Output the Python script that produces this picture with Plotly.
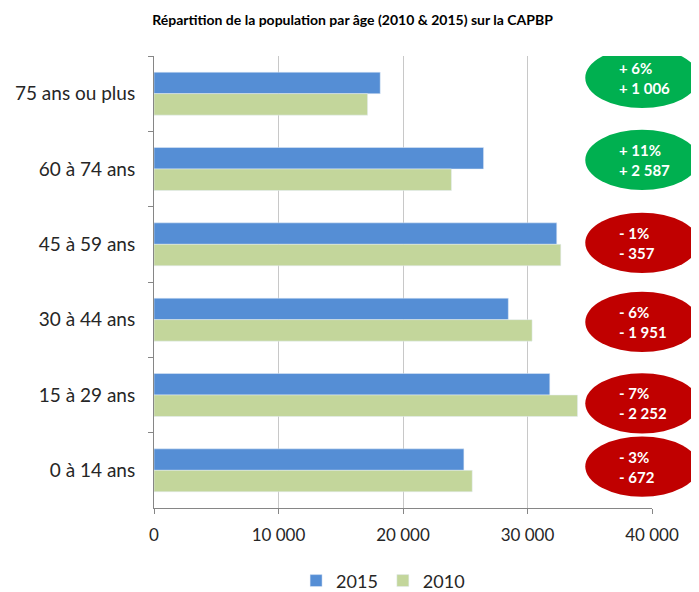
import plotly.graph_objects as go

categories = ["75 ans ou plus", "60 à 74 ans", "45 à 59 ans", "30 à 44 ans", "15 à 29 ans", "0 à 14 ans"]
pop_2015 = [18170, 26470, 32350, 28460, 31790, 24890]
pop_2010 = [17155, 23890, 32675, 30370, 34020, 25560]
evol_pct = ["+ 6%", "+ 11%", "- 1%", "- 6%", "- 7%", "- 3%"]
evol_abs = ["+ 1 006", "+ 2 587", "- 357", "- 1 951", "- 2 252", "- 672"]
x_ticks = [0, 10000, 20000, 30000, 40000]
x_tick_labels = ["0", "10 000", "20 000", "30 000", "40 000"]

FONT = "Lato, Carlito, Calibri, sans-serif"
GREEN_OK = "#00B050"
RED_KO = "#C00000"

fig = go.Figure()
fig.add_trace(go.Bar(y=categories, x=pop_2015, orientation="h", name="2015",
                     marker=dict(color="#558ED5")))
fig.add_trace(go.Bar(y=categories, x=pop_2010, orientation="h", name="2010",
                     marker=dict(color="#C3D69B")))

# ellipse placement (style): vertical offsets relative to category centres
ellipse_dy = [-0.21, -0.12, -0.02, 0.03, 0.11, -0.05]
ellipse_h = 0.80
ex0, ex1 = 0.866, 1.094
for i, cat in enumerate(categories):
    col = GREEN_OK if evol_pct[i].startswith("+") else RED_KO
    yc = i + ellipse_dy[i]
    fig.add_shape(type="circle", xref="paper", yref="y",
                  x0=ex0, x1=ex1, y0=yc - ellipse_h / 2, y1=yc + ellipse_h / 2,
                  fillcolor=col, line=dict(color=col, width=0), layer="above")
    fig.add_annotation(xref="paper", yref="y", x=0.930, xanchor="left", y=yc,
                       text="<b>" + evol_pct[i] + "<br>" + evol_abs[i] + "</b>",
                       showarrow=False, align="left",
                       font=dict(family=FONT, size=15, color="white"))

# the page adds an 8 px body margin, so the figure is 8 px smaller than the window
fig.update_layout(
    width=691, height=584,
    margin=dict(l=146, r=47, t=48, b=84, autoexpand=False),
    paper_bgcolor="white", plot_bgcolor="white",
    barmode="group", bargap=0.43, bargroupgap=0,
    title=dict(text="<b>Répartition de la population par âge (2010 & 2015) sur la CAPBP</b>",
               x=0.4986, xanchor="center", yref="container", y=0.979, yanchor="middle",
               font=dict(family=FONT, size=14, color="black")),
    font=dict(family=FONT, size=18, color="#262626"),
    legend=dict(orientation="h", x=0.460, xanchor="center", yref="container",
                y=0.019, yanchor="middle",
                font=dict(family=FONT, size=18, color="#262626"),
                itemwidth=30, traceorder="normal"),
    xaxis=dict(range=[0, 40000], tickvals=x_ticks, ticktext=x_tick_labels,
               showgrid=True, gridcolor="#C8C8C8", gridwidth=1,
               showline=True, linecolor="#868686", linewidth=1,
               ticks="outside", ticklen=5, tickcolor="#868686", automargin=False,
               ticklabelstandoff=7,
               zeroline=False, tickfont=dict(family=FONT, size=17, color="#262626")),
    yaxis=dict(range=[len(categories) - 0.5, -0.5], autorange=False,
               showgrid=False, automargin=False,
               showline=True, linecolor="#868686", linewidth=1,
               ticks="outside", tickson="boundaries", ticklen=5, tickcolor="#868686",
               ticklabelstandoff=14,
               tickfont=dict(family=FONT, size=19, color="#262626")),
)

fig.write_html("out.html")
